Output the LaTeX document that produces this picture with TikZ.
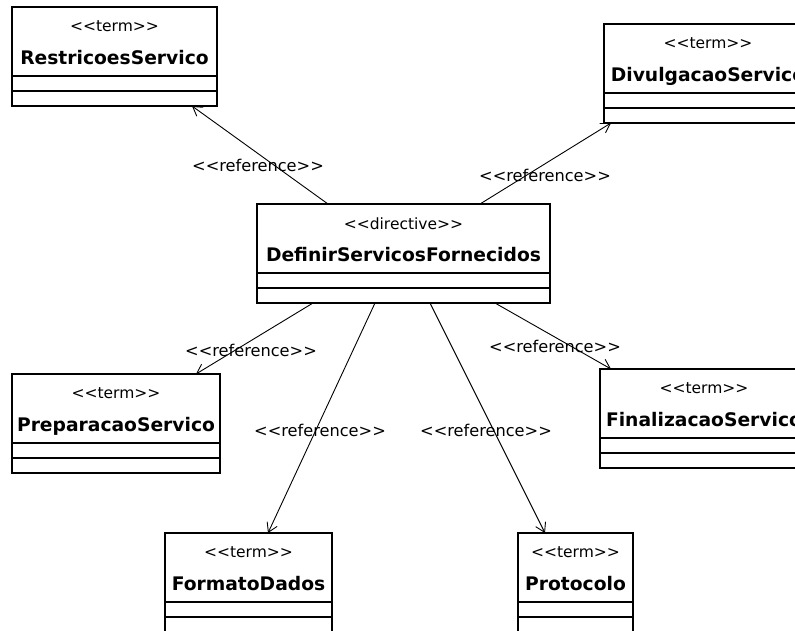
\documentclass[tikz,border=0pt]{standalone}
\usepackage{fontspec}
\setmainfont{DejaVu Sans}
\usetikzlibrary{arrows.meta, calc, positioning}

% guillemet-style stereotype, kept as two separate < and >
\newcommand{\stype}[1]{<{}<#1>{}>}

\begin{document}
\begin{tikzpicture}[x=1pt, y=-1pt,
    classhead/.style={draw, line width=1.4pt, minimum height=69pt, inner sep=0pt, outer sep=0pt, anchor=north west},
    compart/.style={draw, line width=1.4pt},
    stereo/.style={font=\fontsize{15.5}{18}\selectfont, inner sep=0pt, text height=11pt, text depth=0pt},
    classname/.style={font=\bfseries\fontsize{18.7}{22}\selectfont, inner sep=0pt, text height=13pt, text depth=0pt},
    reflabel/.style={font=\fontsize{16.2}{19}\selectfont, inner sep=0pt, text height=11pt, text depth=0pt},
    refarrow/.style={-{Straight Barb[length=9pt, width=11pt]}, line width=0.9pt}
]
\useasboundingbox (0,0) rectangle (795,630);
\clip (0,0) rectangle (795,630);

% the directive in the middle
\node[classhead, minimum width=293pt] (def) at (257,204) {};
\node[stereo] (def-st) at ([yshift=-20pt]def.north) {\stype{directive}};
\node[classname] (def-nm) at ([yshift=-51pt]def.north) {DefinirServicosFornecidos};
\draw[compart] (def.south west) rectangle ++(293,15) rectangle ++(-293,15);

% terms
\node[classhead, minimum width=205pt] (restr) at (12,7) {};
\node[stereo] (restr-st) at ([yshift=-19pt]restr.north) {\stype{term}};
\node[classname] (restr-nm) at ([yshift=-51pt]restr.north) {RestricoesServico};
\draw[compart] (restr.south west) rectangle ++(205,15) rectangle ++(-205,15);

\node[classhead, minimum width=208pt] (divul) at (604,24) {};
\node[stereo] (divul-st) at ([yshift=-19pt]divul.north) {\stype{term}};
\node[classname] (divul-nm) at ([yshift=-51pt]divul.north) {DivulgacaoServico};
\draw[compart] (divul.south west) rectangle ++(208,15) rectangle ++(-208,15);

\node[classhead, minimum width=208pt] (prep) at (12,374) {};
\node[stereo] (prep-st) at ([yshift=-19pt]prep.north) {\stype{term}};
\node[classname] (prep-nm) at ([yshift=-51pt]prep.north) {PreparacaoServico};
\draw[compart] (prep.south west) rectangle ++(208,15) rectangle ++(-208,15);

\node[classhead, minimum width=208pt] (final) at (600,369) {};
\node[stereo] (final-st) at ([yshift=-19pt]final.north) {\stype{term}};
\node[classname] (final-nm) at ([yshift=-51pt]final.north) {FinalizacaoServico};
\draw[compart] (final.south west) rectangle ++(208,15) rectangle ++(-208,15);

\node[classhead, minimum width=167pt] (formato) at (165,533) {};
\node[stereo] (formato-st) at ([yshift=-19pt]formato.north) {\stype{term}};
\node[classname] (formato-nm) at ([yshift=-51pt]formato.north) {FormatoDados};
\draw[compart] (formato.south west) rectangle ++(167,15) rectangle ++(-167,15);

\node[classhead, minimum width=115pt] (proto) at (518,533) {};
\node[stereo] (proto-st) at ([yshift=-19pt]proto.north) {\stype{term}};
\node[classname] (proto-nm) at ([yshift=-51pt]proto.north) {Protocolo};
\draw[compart] (proto.south west) rectangle ++(115,15) rectangle ++(-115,15);

% reference dependencies
\draw[refarrow] ($(def.north west)+(71,0)$) -- ($(restr.south west)+(180,30)$);
\draw[refarrow] ($(def.north west)+(223,0)$) -- ($(divul.south west)+(7,30)$);
\draw[refarrow] ($(def.south west)+(56,30)$) -- ($(prep.north west)+(184,0)$);
\draw[refarrow] ($(def.south west)+(118,30)$) -- ($(formato.north west)+(103,0)$);
\draw[refarrow] ($(def.south west)+(173,30)$) -- ($(proto.north west)+(27,0)$);
\draw[refarrow] ($(def.south west)+(238,30)$) -- ($(final.north west)+(11,0)$);

\node[reflabel] (lbl-restr) at (258,166) {\stype{reference}};
\node[reflabel] (lbl-divul) at (545,176) {\stype{reference}};
\node[reflabel] (lbl-prep) at (251,351) {\stype{reference}};
\node[reflabel] (lbl-formato) at (320,431) {\stype{reference}};
\node[reflabel] (lbl-proto) at (486,431) {\stype{reference}};
\node[reflabel] (lbl-final) at (555,347) {\stype{reference}};
\end{tikzpicture}
\end{document}
